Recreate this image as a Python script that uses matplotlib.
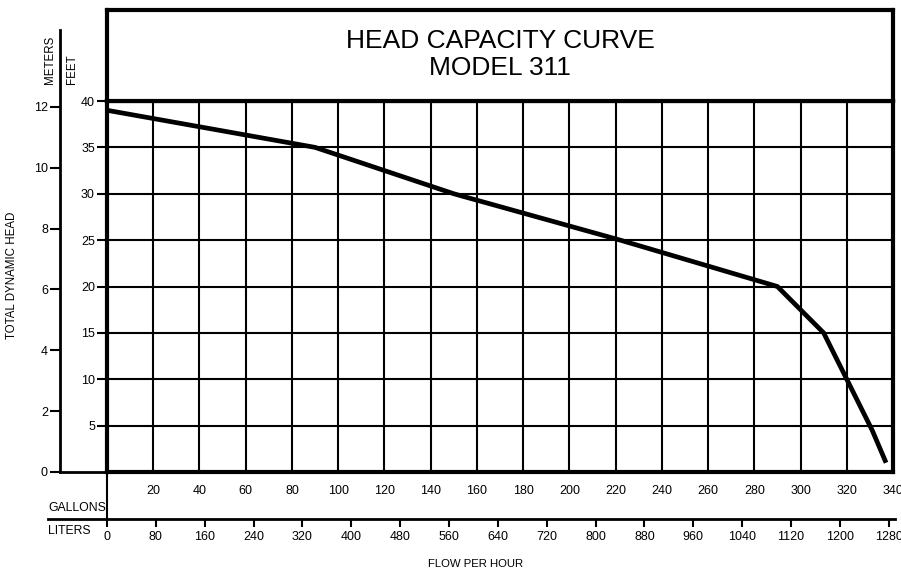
import matplotlib
matplotlib.use("Agg")
import matplotlib.pyplot as plt

# head capacity readings (gallons per hour vs feet of head)
gallons = [0, 90, 150, 222, 290, 310, 331, 337]
feet = [39, 35, 30, 25, 20, 15, 4.5, 1]

gallon_ticks = list(range(20, 341, 20))
feet_ticks = list(range(5, 41, 5))
meter_ticks = list(range(0, 13, 2))
liter_ticks = list(range(0, 1281, 80))

title = "HEAD CAPACITY CURVE\nMODEL 311"
L_PER_GAL = 3.78541
FT_PER_M = 3.28084

plt.rcParams["font.family"] = ["Liberation Sans", "DejaVu Sans"]

W, H = 901, 574
fig = plt.figure(figsize=(W / 100, H / 100), dpi=100)


def px_box(x0, y0, x1, y1):
    # pixel box (top-left origin) -> figure fraction rect
    return [x0 / W, (H - y1) / H, (x1 - x0) / W, (y1 - y0) / H]


PL, PR, PT, PB = 107, 893, 101, 472
px_per_ft = (PB - PT) / 40.0
px_per_gal = (PR - PL) / 340.0

# main grid
ax = fig.add_axes(px_box(PL, PT, PR, PB))
ax.plot(gallons, feet, color="black", lw=3.4, solid_capstyle="butt", solid_joinstyle="miter")
ax.set_xlim(0, 340)
ax.set_ylim(0, 40)
ax.set_xticks(gallon_ticks)
ax.set_yticks(feet_ticks)
ax.grid(True, color="black", lw=1.5)
ax.set_axisbelow(True)
for s in ax.spines.values():
    s.set_linewidth(3)
ax.tick_params(axis="x", length=0, pad=9, labelsize=9)
ax.tick_params(axis="y", length=7.2, width=1.5, pad=1.5, labelsize=9)

# title box
tb = fig.add_axes(px_box(PL, 10, PR, PT))
tb.set_xticks([])
tb.set_yticks([])
for s in tb.spines.values():
    s.set_linewidth(3)
tb.text(0.5, 0.51, title, ha="center", va="center", fontsize=19, linespacing=1.2,
        transform=tb.transAxes)

# meters scale
MTOP = 30
ma = fig.add_axes(px_box(60, MTOP, PL, PB))
ma.set_ylim(0, (PB - MTOP) / px_per_ft / FT_PER_M)
ma.set_xlim(0, 1)
ma.set_yticks(meter_ticks)
ma.set_xticks([])
ma.spines["top"].set_visible(False)
ma.spines["right"].set_visible(False)
ma.spines["left"].set_linewidth(2)
ma.spines["bottom"].set_linewidth(2)
ma.tick_params(axis="y", length=7.2, width=1.5, pad=1.5, labelsize=9)
ma.patch.set_alpha(0)

fig.text(50 / W, 1 - 60 / H, "METERS", rotation=90, ha="center", va="center", fontsize=8.3)
fig.text(72 / W, 1 - 69 / H, "FEET", rotation=90, ha="center", va="center", fontsize=8.3)
fig.text(12 / W, 1 - 275 / H, "TOTAL DYNAMIC HEAD", rotation=90, ha="center", va="center",
         fontsize=8.3)

# liters scale
LX0, LX1, LY = 48, 895, 519
la = fig.add_axes(px_box(LX0, PB, LX1, LY))
px_per_l = px_per_gal / L_PER_GAL
la.set_xlim(-(PL - LX0) / px_per_l, (LX1 - PL) / px_per_l)
la.set_ylim(0, 1)
la.set_xticks(liter_ticks)
la.set_yticks([])
for side in ("top", "left", "right"):
    la.spines[side].set_visible(False)
la.spines["bottom"].set_linewidth(2)
la.tick_params(axis="x", length=6, width=1.5, pad=2.5, labelsize=9)
la.axvline(0, color="black", lw=1.5)
la.patch.set_alpha(0)
la.text(0.0, 0.23, "GALLONS", transform=la.transAxes, ha="left", va="center", fontsize=8.8)
la.text(0.0, -0.25, "LITERS", transform=la.transAxes, ha="left", va="center", fontsize=8.8)

fig.text(476 / W, 1 - 564 / H, "FLOW PER HOUR", ha="center", va="center", fontsize=8.2)

fig.savefig("out.png", dpi=100)
